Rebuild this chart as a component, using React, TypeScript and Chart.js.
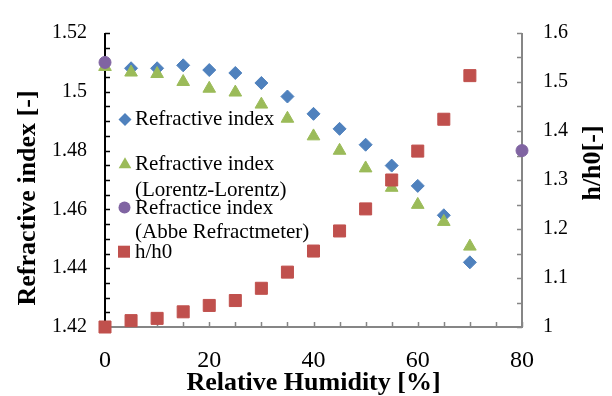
import React, { useEffect, useRef } from "react";
import { Chart, registerables } from "chart.js";

Chart.register(...registerables);

// ---- data ----
const HUMIDITY_BLUE = [5, 10, 15, 20, 25, 30, 35, 40, 45, 50, 55, 60, 65, 70];
const REFRACTIVE_INDEX = [1.508, 1.508, 1.509, 1.5074, 1.5064, 1.503, 1.4984, 1.4925, 1.4874, 1.482, 1.4749, 1.468, 1.458, 1.442];
const HUMIDITY = [0, 5, 10, 15, 20, 25, 30, 35, 40, 45, 50, 55, 60, 65, 70];
const REFRACTIVE_LL = [1.5085, 1.5066, 1.5061, 1.5034, 1.5011, 1.4998, 1.4957, 1.4909, 1.4849, 1.48, 1.474, 1.4674, 1.4616, 1.4558, 1.4474];
const HUMIDITY_ABBE = [0, 80];
const REFRACTIVE_ABBE = [1.51, 1.48];
const H_H0 = [1.0, 1.013, 1.0176, 1.031, 1.044, 1.054, 1.079, 1.112, 1.155, 1.196, 1.241, 1.3, 1.359, 1.424, 1.513];

const X_TITLE = "Relative Humidity [%]";
const Y_TITLE = "Refractive index [-]";
const Y2_TITLE = "h/h0[-]";
const LEGEND_LINES = [
  ["Refractive index"],
  ["Refractive index", "(Lorentz-Lorentz)"],
  ["Refractice index", "(Abbe Refractmeter)"],
  ["h/h0"],
];

const BLUE = "#4F81BD";
const GREEN = "#9BBB59";
const PURPLE = "#8064A2";
const RED = "#C0504D";
const GRAY = "#868686";
const FONT = "'Liberation Serif', 'Times New Roman', serif";

const pts = (xs: number[], ys: number[]) => xs.map((x, i) => ({ x, y: ys[i] }));

const isMultiple = (v: number, step: number) => Math.abs(v / step - Math.round(v / step)) < 1e-6;
const fmt = (v: number) => String(Number(v.toFixed(2)));

function drawMarker(ctx: CanvasRenderingContext2D, kind: string, x: number, y: number, color: string) {
  ctx.save();
  ctx.fillStyle = color;
  ctx.beginPath();
  if (kind === "diamond") {
    const r = 6.5;
    ctx.moveTo(x - r, y); ctx.lineTo(x, y - r); ctx.lineTo(x + r, y); ctx.lineTo(x, y + r);
  } else if (kind === "triangle") {
    const r = 7.3;
    ctx.moveTo(x, y - r); ctx.lineTo(x + 0.866 * r, y + 0.5 * r); ctx.lineTo(x - 0.866 * r, y + 0.5 * r);
  } else if (kind === "circle") {
    ctx.arc(x, y, 6, 0, Math.PI * 2);
  } else {
    ctx.rect(x - 6, y - 6, 12, 12);
  }
  ctx.closePath();
  ctx.fill();
  ctx.restore();
}

const framePlugin = {
  id: "frame",
  beforeDatasetsDraw(chart: any) {
    const { ctx, chartArea } = chart;
    const { left, right, top, bottom } = chartArea;
    const x = chart.scales.x;
    const y = chart.scales.y;
    const y2 = chart.scales.y2;
    ctx.save();
    // bottom axis
    ctx.strokeStyle = GRAY;
    ctx.lineWidth = 1.5;
    x.ticks.forEach((t: any) => {
      const px = Math.round(x.getPixelForValue(t.value)) + 0.5;
      ctx.beginPath(); ctx.moveTo(px, bottom); ctx.lineTo(px, bottom - 5); ctx.stroke();
    });
    y2.ticks.forEach((t: any) => {
      const py = Math.round(y2.getPixelForValue(t.value)) + 0.5;
      ctx.beginPath(); ctx.moveTo(right, py); ctx.lineTo(right - 5, py); ctx.stroke();
    });
    ctx.lineWidth = 2;
    ctx.beginPath(); ctx.moveTo(left, bottom); ctx.lineTo(right + 1, bottom); ctx.stroke();
    ctx.beginPath(); ctx.moveTo(right, top); ctx.lineTo(right, bottom); ctx.stroke();
    // left axis
    ctx.strokeStyle = "#000";
    ctx.lineWidth = 1.5;
    y.ticks.forEach((t: any) => {
      const py = Math.round(y.getPixelForValue(t.value)) + 0.5;
      ctx.beginPath(); ctx.moveTo(left, py); ctx.lineTo(left + 5, py); ctx.stroke();
    });
    ctx.lineWidth = 2;
    ctx.beginPath(); ctx.moveTo(left, top); ctx.lineTo(left, bottom + 1); ctx.stroke();
    ctx.restore();
  },
  afterDraw(chart: any) {
    const { ctx, chartArea } = chart;
    ctx.save();
    ctx.fillStyle = "#000";
    // titles
    ctx.font = `bold 26px ${FONT}`;
    ctx.textAlign = "center";
    ctx.textBaseline = "alphabetic";
    ctx.fillText(X_TITLE, (chartArea.left + chartArea.right) / 2, 390);
    ctx.save();
    ctx.translate(35, 198);
    ctx.rotate(-Math.PI / 2);
    ctx.fillText(Y_TITLE, 0, 0);
    ctx.restore();
    ctx.save();
    ctx.translate(600, 163);
    ctx.rotate(-Math.PI / 2);
    ctx.fillText(Y2_TITLE, 0, 0);
    ctx.restore();
    // legend
    const markers = [
      { kind: "diamond", color: BLUE, mx: 125, my: 119.5, baselines: [125] },
      { kind: "triangle", color: GREEN, mx: 125, my: 164.5, baselines: [170, 195.5] },
      { kind: "circle", color: PURPLE, mx: 124.5, my: 207.5, baselines: [213.5, 237.5] },
      { kind: "square", color: RED, mx: 124, my: 251.7, baselines: [257.5] },
    ];
    ctx.font = `21px ${FONT}`;
    ctx.textAlign = "left";
    markers.forEach((m, i) => {
      drawMarker(ctx, m.kind, m.mx, m.my, m.color);
      ctx.fillStyle = "#000";
      LEGEND_LINES[i].forEach((line, j) => ctx.fillText(line, 135, m.baselines[j]));
    });
    ctx.restore();
  },
};

export default function App() {
  const ref = useRef<HTMLCanvasElement | null>(null);
  useEffect(() => {
    if (!ref.current) return;
    const chart = new Chart(ref.current, {
      type: "scatter",
      data: {
        datasets: [
          {
            label: "Refractive index",
            data: pts(HUMIDITY_BLUE, REFRACTIVE_INDEX),
            backgroundColor: BLUE, borderColor: BLUE, borderWidth: 1,
            pointStyle: "rectRot", pointRadius: 6.5, yAxisID: "y", order: 4, clip: false,
          },
          {
            label: "Refractive index (Lorentz-Lorentz)",
            data: pts(HUMIDITY, REFRACTIVE_LL),
            backgroundColor: GREEN, borderColor: GREEN, borderWidth: 1,
            pointStyle: "triangle", pointRadius: 7.3, yAxisID: "y", order: 3, clip: false,
          },
          {
            label: "Refractice index (Abbe Refractmeter)",
            data: pts(HUMIDITY_ABBE, REFRACTIVE_ABBE),
            backgroundColor: PURPLE, borderColor: PURPLE, borderWidth: 1,
            pointStyle: "circle", pointRadius: 6, yAxisID: "y", order: 2, clip: false,
          },
          {
            label: "h/h0",
            data: pts(HUMIDITY, H_H0),
            backgroundColor: RED, borderColor: RED, borderWidth: 1,
            pointStyle: "rect", pointRadius: 8.5, yAxisID: "y2", order: 1, clip: false,
          },
        ],
      },
      options: {
        responsive: false,
        animation: false,
        devicePixelRatio: 1,
        layout: { padding: { top: 20, left: 0, right: 0, bottom: 0 } },
        plugins: { legend: { display: false }, tooltip: { enabled: false } },
        scales: {
          x: {
            type: "linear", position: "bottom", min: 0, max: 80,
            grid: { display: false, drawTicks: false }, border: { display: false },
            ticks: {
              stepSize: 5, autoSkip: false, maxRotation: 0, padding: 19, color: "#000",
              font: { family: FONT, size: 24 },
              callback: (v: any) => (isMultiple(Number(v), 20) ? String(v) : ""),
            },
            afterFit: (s: any) => { s.height = 69; },
          },
          y: {
            type: "linear", position: "left", min: 1.42, max: 1.52,
            grid: { display: false, drawTicks: false }, border: { display: false },
            ticks: {
              stepSize: 0.005, autoSkip: false, padding: 18, color: "#000",
              font: { family: FONT, size: 20 },
              callback: (v: any) => (isMultiple(Number(v), 0.02) ? fmt(Number(v)) : ""),
            },
            afterFit: (s: any) => { s.width = 105; },
          },
          y2: {
            type: "linear", position: "right", min: 1, max: 1.6,
            grid: { display: false, drawTicks: false }, border: { display: false },
            ticks: {
              stepSize: 0.05, autoSkip: false, padding: 21, color: "#000",
              font: { family: FONT, size: 20 },
              callback: (v: any) => (isMultiple(Number(v), 0.1) ? fmt(Number(v)) : ""),
            },
            afterFit: (s: any) => { s.width = 90; },
          },
        },
      },
      plugins: [framePlugin],
    });
    return () => chart.destroy();
  }, []);
  return (
    <div style={{ position: "fixed", left: 0, top: 0, width: 612, height: 396, background: "#fff" }}>
      <canvas ref={ref} width={612} height={396} />
    </div>
  );
}
